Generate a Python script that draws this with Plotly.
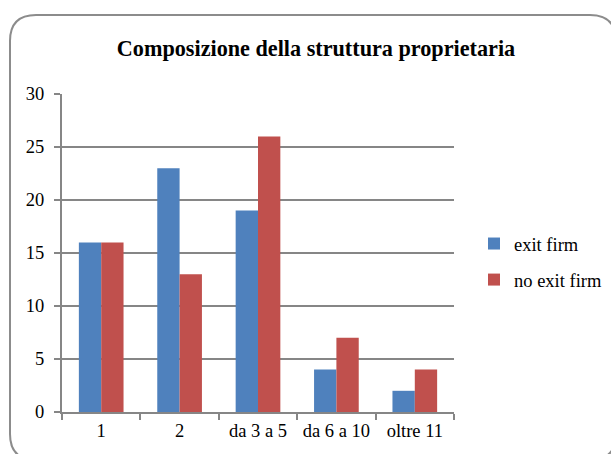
import plotly.graph_objects as go

# Ownership structure composition: number of owners per firm
categories = ["1", "2", "da 3 a 5", "da 6 a 10", "oltre 11"]
exit_firm = [16, 23, 19, 4, 2]
no_exit_firm = [16, 13, 26, 7, 4]
y_ticks = [0, 5, 10, 15, 20, 25, 30]

W, H = 611, 454
L, R, T, B = 62, 157, 94, 42
PW, PH = W - L - R, H - T - B

BLUE = "#4F81BD"
RED = "#C0504D"
GRID = "#868686"
FONT = "Liberation Serif"


def px(x):
    return (x - L) / PW


def py(y):
    return (H - B - y) / PH


def rounded_rect(x0, y0, x1, y1, r):
    pts = [
        f"M {px(x0 + r)},{py(y0)}",
        f"L {px(x1 - r)},{py(y0)}",
        f"Q {px(x1)},{py(y0)} {px(x1)},{py(y0 + r)}",
        f"L {px(x1)},{py(y1 - r)}",
        f"Q {px(x1)},{py(y1)} {px(x1 - r)},{py(y1)}",
        f"L {px(x0 + r)},{py(y1)}",
        f"Q {px(x0)},{py(y1)} {px(x0)},{py(y1 - r)}",
        f"L {px(x0)},{py(y0 + r)}",
        f"Q {px(x0)},{py(y0)} {px(x0 + r)},{py(y0)}",
        "Z",
    ]
    return " ".join(pts)


fig = go.Figure()
fig.add_trace(go.Bar(name="exit firm", x=categories, y=exit_firm,
                     marker=dict(color=BLUE, line=dict(width=0)),
                     legendgroup="a"))
fig.add_trace(go.Bar(name="no exit firm", x=categories, y=no_exit_firm,
                     marker=dict(color=RED, line=dict(width=0)),
                     legendgroup="b"))

tick_font = dict(family=FONT, size=18.5, color="black")

fig.update_layout(
    width=W, height=H,
    margin=dict(l=L, r=R, t=T, b=B, pad=0, autoexpand=False),
    paper_bgcolor="white", plot_bgcolor="white",
    font=tick_font,
    barmode="group", bargap=0.43, bargroupgap=0,
    title=dict(text="<b>Composizione della struttura proprietaria</b>",
               font=dict(family=FONT, size=22.2, color="black"),
               xref="paper", x=px(316), xanchor="center",
               yref="container", y=1 - 48 / H, yanchor="middle"),
    showlegend=True,
    legend=dict(x=px(474), y=py(225), xanchor="left", yanchor="top",
                traceorder="grouped", tracegroupgap=9,
                font=tick_font,
                bgcolor="rgba(0,0,0,0)", itemwidth=30),
    xaxis=dict(type="category", showline=True, linecolor=GRID, linewidth=2,
               ticks="outside", tickson="boundaries", ticklen=6,
               tickcolor=GRID, tickwidth=2, showgrid=False,
               tickangle=0, tickfont=tick_font, automargin=False,
               ticklabelstandoff=1),
    yaxis=dict(range=[0, 30], tickvals=y_ticks, showline=True,
               linecolor=GRID, linewidth=2, ticks="outside", ticklen=6,
               tickcolor=GRID, tickwidth=2, showgrid=True, gridcolor=GRID,
               gridwidth=2, zeroline=False, tickfont=tick_font,
               automargin=False, ticklabelstandoff=6),
    shapes=[dict(type="path", xref="paper", yref="paper", layer="below",
                 path=rounded_rect(10, 15, 616, 460, 26),
                 line=dict(color="#8C8C8C", width=2),
                 fillcolor="rgba(0,0,0,0)")],
)

fig.write_html("out.html")
